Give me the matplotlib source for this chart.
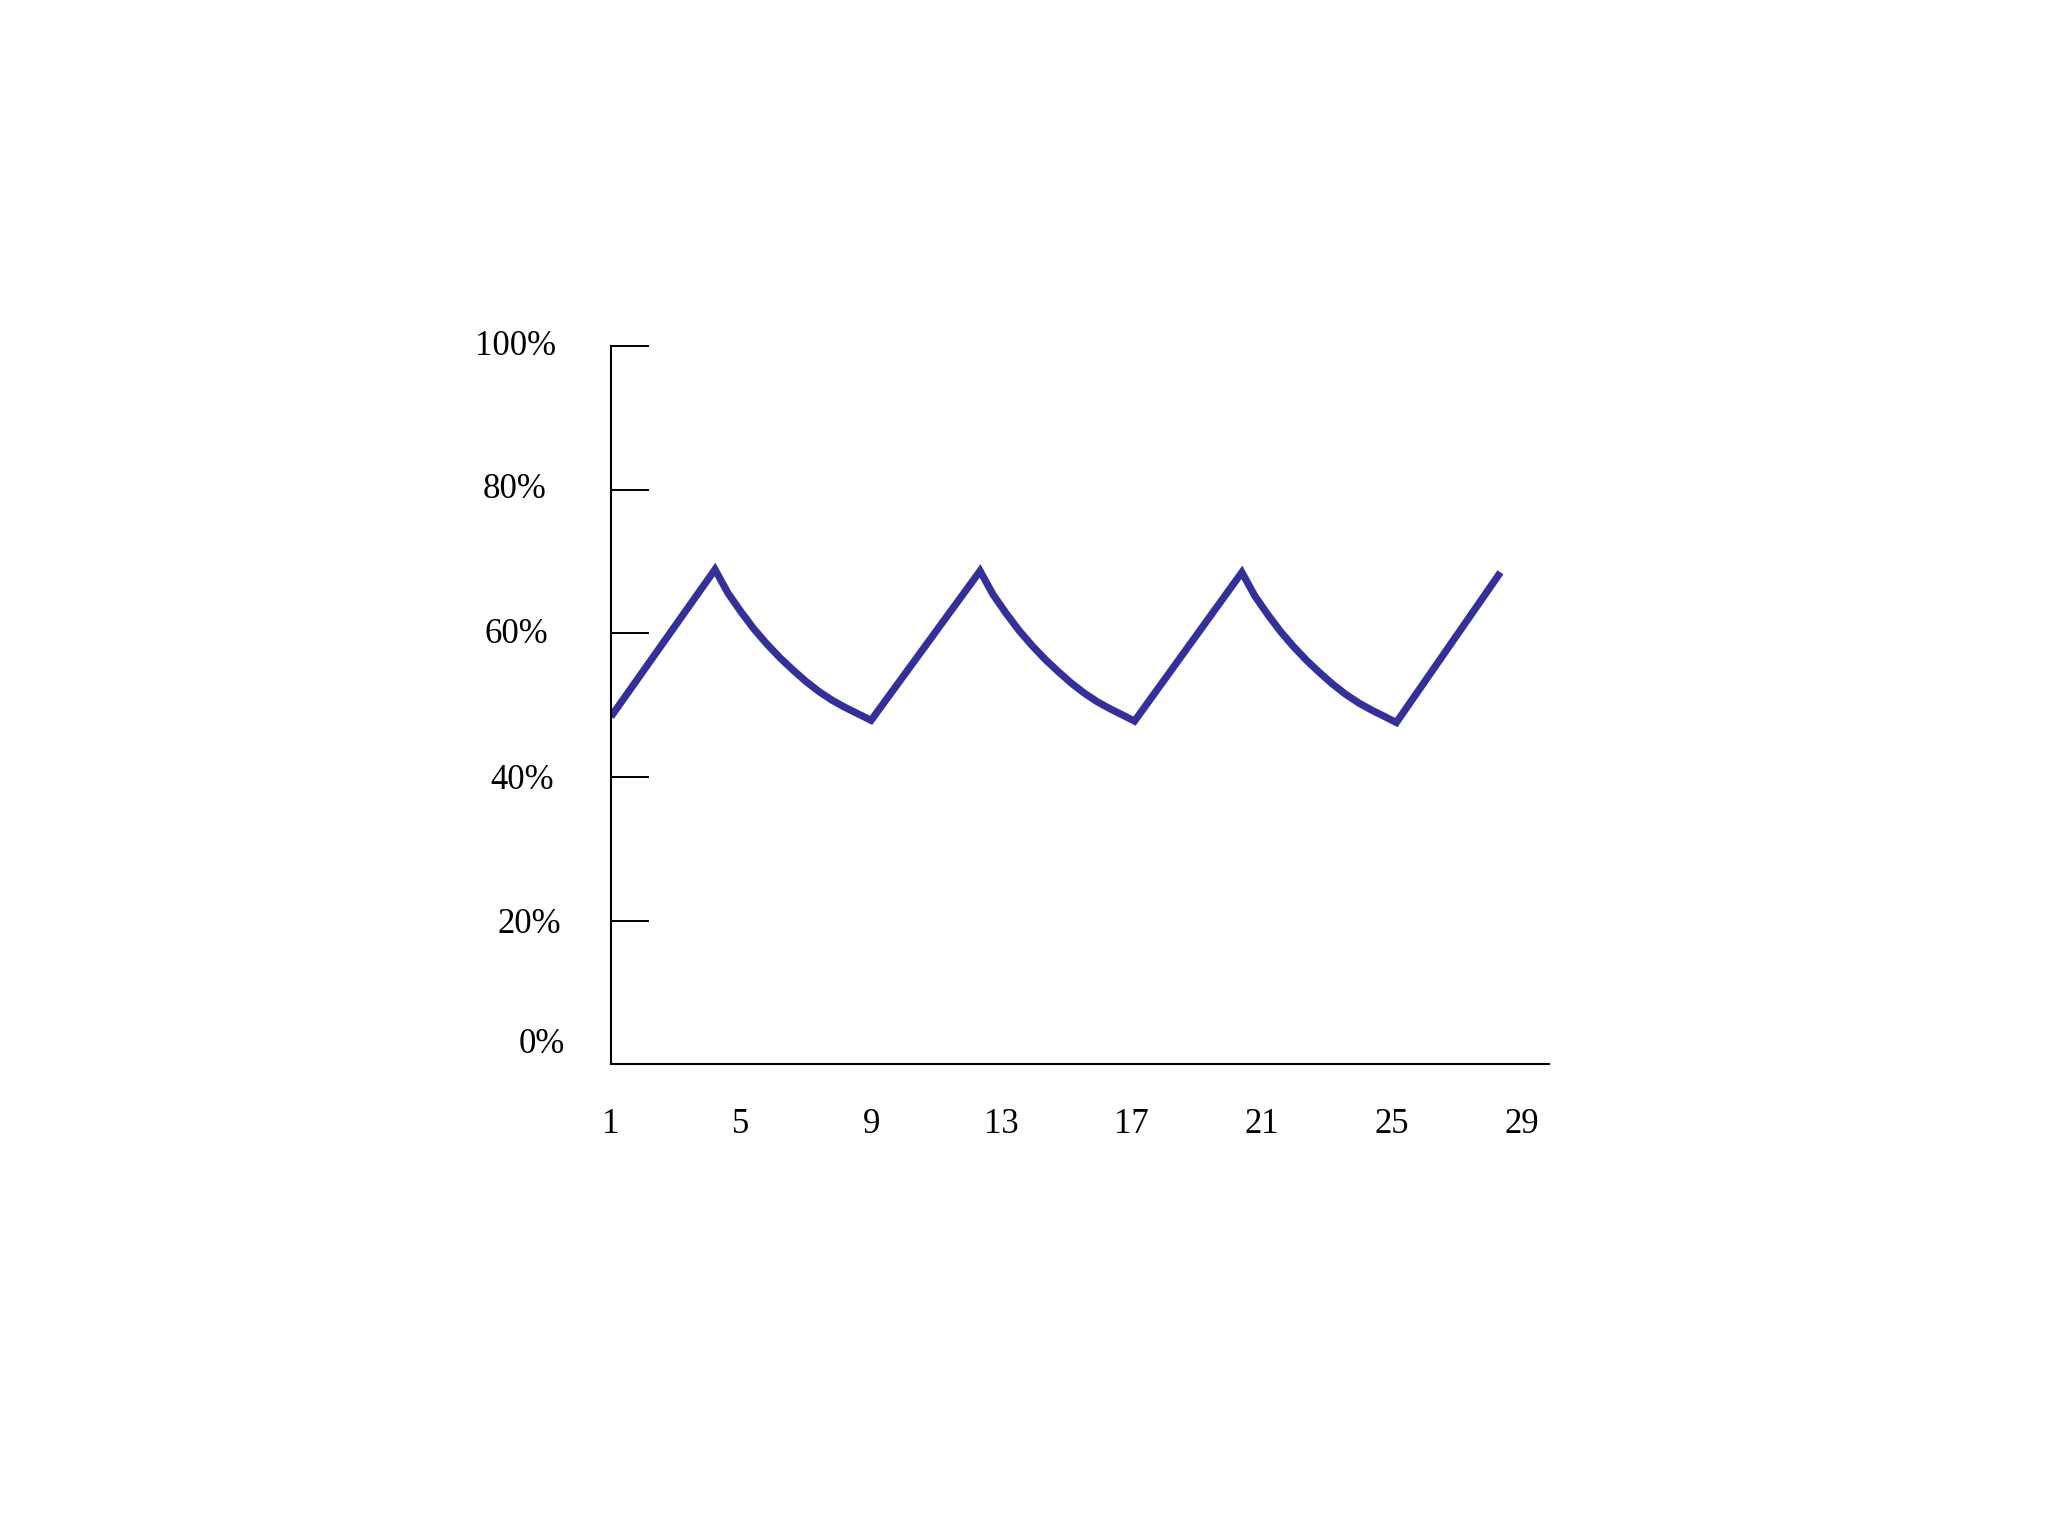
import matplotlib
matplotlib.use("Agg")
import matplotlib.pyplot as plt
from matplotlib.transforms import ScaledTranslation

# values (x = day, y = percent)
days = [1.0, 4.2, 4.6, 5.0, 5.4, 5.8, 6.2, 6.6, 7.0, 7.4, 7.8, 8.2, 8.6, 9.0,
        12.35, 12.75, 13.15, 13.55, 13.95, 14.35, 14.75, 15.15, 15.55, 15.95, 16.35, 16.75, 17.1,
        20.4, 20.8, 21.2, 21.6, 22.0, 22.4, 22.8, 23.2, 23.6, 24.0, 24.4, 24.8, 25.15,
        28.35]
values = [48.4, 68.9, 65.6, 63.0, 60.6, 58.5, 56.6, 54.9, 53.3, 51.9, 50.7, 49.7, 48.8, 47.9,
          68.7, 65.4, 62.8, 60.4, 58.3, 56.4, 54.7, 53.1, 51.7, 50.5, 49.5, 48.6, 47.8,
          68.5, 65.2, 62.6, 60.2, 58.1, 56.2, 54.5, 52.9, 51.5, 50.3, 49.3, 48.4, 47.6,
          68.5]
x_ticks = [1, 5, 9, 13, 17, 21, 25, 29]
y_ticks = [0, 20, 40, 60, 80, 100]
y_labels = ["0%", "20%", "40%", "60%", "80%", "100%"]

plt.rcParams['font.family'] = ['Liberation Serif', 'DejaVu Serif']

fig = plt.figure(figsize=(20.48, 15.36), dpi=100)
ax = fig.add_axes([0.2983, 0.3070, 0.4580, 0.4677])

ax.plot(days, values, color='#33309c', lw=5.2,
        solid_joinstyle='miter', solid_capstyle='butt')

ax.set_xlim(1, 29.84)
ax.set_ylim(0, 100)
ax.spines['top'].set_visible(False)
ax.spines['right'].set_visible(False)
for s in ('left', 'bottom'):
    ax.spines[s].set_linewidth(1.5)
    ax.spines[s].set_color('black')

ax.set_xticks(x_ticks)
ax.set_xticklabels([str(t) for t in x_ticks])
ax.tick_params(axis='x', length=0, pad=31, labelsize=25)

ax.set_yticks(y_ticks)
ax.set_yticklabels([])
ax.tick_params(axis='y', direction='in', length=27, width=1.4)

# the y labels in the reference drift a little, place them by hand
offs = [(-69, 19.5), (-82, -4), (-89, -3), (-95, -1), (-96, 0), (-95, 0)]
for v, lab, (dx, dy) in zip(y_ticks, y_labels, offs):
    tr = ax.get_yaxis_transform() + ScaledTranslation(dx / 100, dy / 100, fig.dpi_scale_trans)
    ax.text(0, v, lab, transform=tr, ha='center', va='center', fontsize=25)

fig.savefig("out.png", dpi=100, facecolor='white')
